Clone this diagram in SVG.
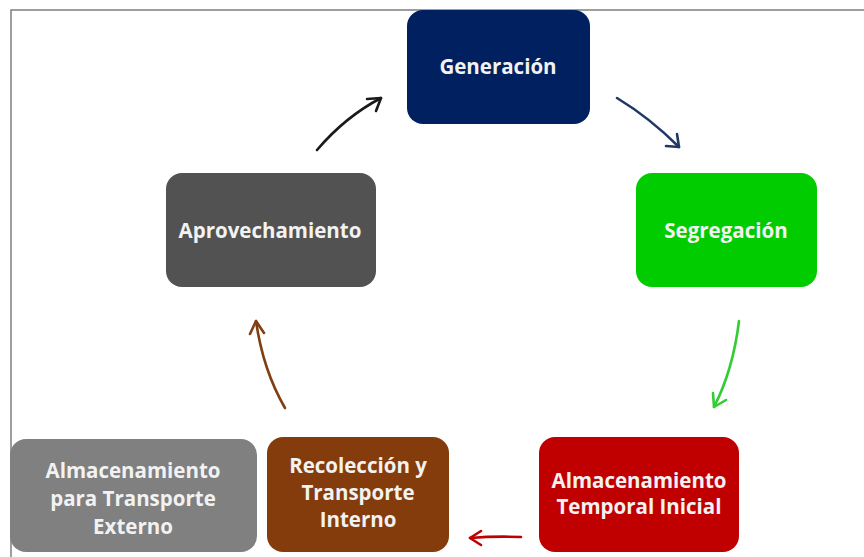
<svg xmlns="http://www.w3.org/2000/svg" width="864" height="557" viewBox="0 0 864 557">
<style>
.box{stroke:none}
.lbl{font-family:"Open Sans","Noto Sans","DejaVu Sans",sans-serif;font-weight:bold;font-size:20.5px;fill:#f2f2f2;text-anchor:middle}
.arr{fill:none;stroke-width:2.6;stroke-linecap:round;stroke-linejoin:round}
</style>
<rect x="0" y="0" width="864" height="557" fill="#ffffff"/>
<path d="M11 557 V10 H864" fill="none" stroke="#7f7f7f" stroke-width="1.5"/>
<g id="generacion">
<rect class="box" x="407" y="10" width="183" height="114" rx="16" fill="#002060"/>
<text class="lbl" x="498" y="74">Generación</text>
</g>
<g id="segregacion">
<rect class="box" x="636" y="173" width="181" height="114" rx="16" fill="#00cc00"/>
<text class="lbl" x="726" y="238">Segregación</text>
</g>
<g id="almacenamiento-temporal">
<rect class="box" x="539" y="437" width="200" height="115" rx="16" fill="#c00000"/>
<text class="lbl" x="639" y="488">Almacenamiento</text>
<text class="lbl" x="639" y="514">Temporal Inicial</text>
</g>
<g id="recoleccion">
<rect class="box" x="267" y="437" width="182" height="115" rx="16" fill="#843c0c"/>
<text class="lbl" x="358" y="473">Recolección y</text>
<text class="lbl" x="358" y="500">Transporte</text>
<text class="lbl" x="358" y="527">Interno</text>
</g>
<g id="almacenamiento-externo">
<rect class="box" x="10" y="439" width="247" height="113" rx="16" fill="#808080"/>
<text class="lbl" x="133" y="478">Almacenamiento</text>
<text class="lbl" x="133" y="506">para Transporte</text>
<text class="lbl" x="133" y="534">Externo</text>
</g>
<g id="aprovechamiento">
<rect class="box" x="166" y="173" width="210" height="114" rx="16" fill="#525252"/>
<text class="lbl" x="270" y="238">Aprovechamiento</text>
</g>
<g id="connectors">
<path class="arr" stroke="#1a1a1a" d="M317 150 Q345 117 381 98"/>
<path class="arr" stroke="#1a1a1a" d="M367 99 L381 98 L376 111"/>
<path class="arr" stroke="#1f3864" d="M617 98 Q650 118 679 147"/>
<path class="arr" stroke="#1f3864" d="M666 146 L679 147 L677 134"/>
<path class="arr" stroke="#33cc33" d="M739 321 Q733 370 714 407"/>
<path class="arr" stroke="#33cc33" d="M713 393 L714 407 L726 400"/>
<path class="arr" stroke="#c00000" d="M521 537 Q495 536 470 538"/>
<path class="arr" stroke="#c00000" d="M481 531 L470 538 L481 545"/>
<path class="arr" stroke="#7f3f12" d="M285 408 Q263 370 256 321"/>
<path class="arr" stroke="#7f3f12" d="M250 334 L256 321 L264 333"/>
</g>
</svg>
